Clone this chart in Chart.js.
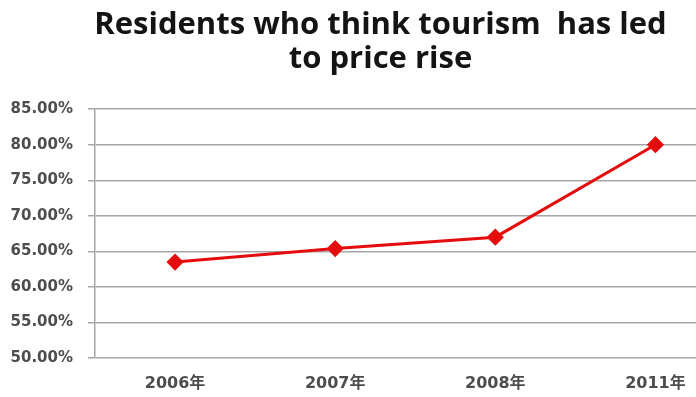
<!DOCTYPE html>
<html>
<head>
<meta charset="utf-8">
<script src="https://cdn.jsdelivr.net/npm/chart.js@4"></script>
<style>
  html, body { margin: 0; padding: 0; background: #fff; overflow: hidden; }
  #wrap { width: 696px; height: 397px; overflow: hidden; }
  canvas { display: block; }
</style>
</head>
<body>
<div id="wrap">
  <canvas id="priceChart" width="745" height="397"></canvas>
</div>
<script>
// survey years and share of residents (%)
const years = ['2006年', '2007年', '2008年', '2011年'];
const residentShare = [63.5, 65.4, 67.0, 80.0];
const yTicks = [50, 55, 60, 65, 70, 75, 80, 85];

const gridGray = '#a6a6a6';
const labelGray = '#4d4d4d';

// let the y axis labels use the left padding strip instead of being clipped by it
const axisLabelRoom = {
  id: 'axisLabelRoom',
  afterLayout: chart => { chart.scales.y.left = 0; }
};

const ctx = document.getElementById('priceChart').getContext('2d');
const priceChart = new Chart(ctx, {
  type: 'line',
  data: {
    labels: years,
    datasets: [{
      label: 'Residents',
      data: residentShare,
      borderColor: 'rgb(228, 12, 12)',
      backgroundColor: 'rgb(228, 12, 12)',
      borderWidth: 3,
      pointStyle: 'rectRot',
      pointRadius: 6.5,
      pointHoverRadius: 6.5,
      tension: 0
    }]
  },
  plugins: [axisLabelRoom],
  options: {
    responsive: false,
    animation: false,
    // left padding nudges the title right; y axis width below keeps the plot edge at x=95
    layout: { padding: { left: 16 } },
    plugins: {
      legend: { display: false },
      tooltip: { enabled: false },
      title: {
        display: true,
        text: ['Residents who think tourism  has led', 'to price rise'],
        color: '#141414',
        font: { family: 'Open Sans', size: 31, weight: 'bold', lineHeight: 1.1 },
        padding: { top: 8, bottom: 33 }
      }
    },
    scales: {
      x: {
        offset: true,
        grid: { display: false, drawTicks: false },
        border: { display: false },
        ticks: {
          color: labelGray,
          padding: 16,
          font: { family: "'DejaVu Sans', 'Noto Sans CJK SC'", size: 16, weight: 'bold' }
        },
        afterFit: scale => { scale.height = 39; }
      },
      y: {
        min: 50,
        max: 85,
        afterBuildTicks: scale => { scale.ticks = yTicks.map(v => ({ value: v })); },
        grid: { color: gridGray, lineWidth: 1.5, tickLength: 7 },
        border: { color: gridGray, width: 1.5 },
        ticks: {
          color: labelGray,
          padding: 15,
          font: { family: 'DejaVu Sans', size: 15, weight: 'bold' },
          callback: v => v.toFixed(2) + '%'
        },
        afterFit: scale => { scale.width = 79; }
      }
    }
  }
});
</script>
</body>
</html>
